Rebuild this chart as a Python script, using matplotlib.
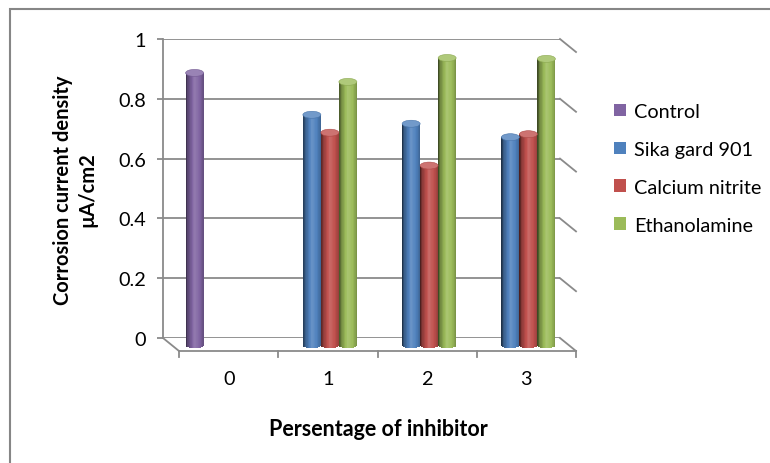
import numpy as np
import matplotlib
matplotlib.use("Agg")
import matplotlib.pyplot as plt
from matplotlib.patches import Ellipse, Patch, Rectangle
from matplotlib.colors import to_rgb

plt.rcParams['font.family'] = ['Lato', 'DejaVu Sans']

# data
categories = ['0', '1', '2', '3']
series_names = ['Control', 'Sika gard 901', 'Calcium nitrite', 'Ethanolamine']
control = [0.91, None, None, None]
sika = [None, 0.77, 0.74, 0.695]
calcium = [None, 0.71, 0.60, 0.705]
ethanol = [None, 0.88, 0.96, 0.957]
series_values = [control, sika, calcium, ethanol]
series_colors = ['#8064A2', '#4F81BD', '#C0504D', '#9BBB59']
yticks = [0, 0.2, 0.4, 0.6, 0.8, 1]
ytick_labels = ['0', '0.2', '0.4', '0.6', '0.8', '1']

grid_col = '#8a8a8a'
fs = 14.3

fig = plt.figure(figsize=(7.7, 4.64), dpi=100)
ax = fig.add_axes([163 / 770, 125 / 464, 397 / 770, 299 / 464])
ax.set_xlim(-0.5, 3.5)
ax.set_ylim(0, 1)

# px -> data units
px_x = 1 / 99.25
px_y = 1 / 299
ddx, ddy = 16 * px_x, -13 * px_y      # depth of floor
mdx, mdy = 9 * px_x, -7 * px_y        # bars sit mid-depth

# back wall axis + grid
for s in ['top', 'right', 'bottom']:
    ax.spines[s].set_visible(False)
ax.spines['left'].set_color(grid_col)
ax.spines['left'].set_linewidth(1.3)
ax.set_xticks([])
ax.set_yticks(yticks)
ax.set_yticklabels(ytick_labels, fontsize=fs)
ax.tick_params(axis='y', length=4, width=1.3, color=grid_col, pad=8)
ax.yaxis.grid(True, color=grid_col, linewidth=1.3)
ax.set_axisbelow(True)

# right side wall diagonals
for v in yticks:
    ax.plot([3.5, 3.5 + ddx], [v, v + ddy], color=grid_col, lw=1.3, clip_on=False)

# floor
ax.plot([-0.5, -0.5 + ddx], [0, ddy], color=grid_col, lw=1.3, clip_on=False)
ax.plot([-0.5 + ddx, 3.5 + ddx], [ddy, ddy], color=grid_col, lw=1.3, clip_on=False)
for b in np.arange(-0.5, 4.0, 1.0):
    ax.plot([b + ddx, b + ddx], [ddy, ddy - 6 * px_y], color=grid_col, lw=1.3, clip_on=False)
for k, c in enumerate(categories):
    ax.text(k + ddx, ddy - 28 * px_y, c, ha='center', va='center', fontsize=fs)


def shade(col, m):
    rgb = np.array(to_rgb(col))
    if m <= 1:
        return tuple(rgb * m)
    return tuple(rgb + (1 - rgb) * (m - 1))


w = 18 * px_x
eh = 7 * px_y
N = 30
prof_t = [0, 0.12, 0.5, 0.78, 1]
prof_m = [0.35, 0.7, 1.15, 1.0, 0.78]

for i, (vals, col) in enumerate(zip(series_values, series_colors)):
    for k, v in enumerate(vals):
        if v is None:
            continue
        cx = k + (i - 1.5) * w + mdx
        t = (np.arange(N) + 0.5) / N
        xs = cx - w / 2 + t * w
        bottoms = mdy - eh / 2 * np.sqrt(1 - (2 * t - 1) ** 2)
        heights = mdy + v - bottoms
        cols = [shade(col, np.interp(tt, prof_t, prof_m)) for tt in t]
        ax.bar(xs, heights, width=w / N * 1.15, bottom=bottoms, color=cols,
               linewidth=0, zorder=3, clip_on=False)
        ax.add_patch(Ellipse((cx, mdy + v), w, eh, facecolor=shade(col, 1.2),
                             edgecolor=shade(col, 0.9), lw=0.4, zorder=4, clip_on=False))

# axis titles
fig.text(75 / 770, 1 - 190 / 464, 'Corrosion current density\nµA/cm2', rotation=90,
         ha='center', va='center', fontsize=14.5, fontweight='bold', linespacing=1.3)
fig.text(378 / 770, 1 - 430 / 464, 'Persentage of inhibitor', ha='center', va='center',
         fontsize=15.5, fontweight='bold')

# legend
handles = [Patch(facecolor=c, edgecolor='none') for c in series_colors]
fig.legend(handles, series_names, loc='upper left', bbox_to_anchor=(614 / 770, 1 - 104 / 464),
           frameon=False, fontsize=fs, handlelength=0.6, handleheight=0.6,
           handletextpad=0.4, labelspacing=1.05, borderpad=0, borderaxespad=0)

# chart border (only top/left visible in the crop)
fig.add_artist(Rectangle((10 / 770, -0.1), 1.5, 454 / 464 + 0.1, transform=fig.transFigure,
                         fill=False, edgecolor='#868686', lw=1.5))

fig.savefig('out.png', dpi=100)
